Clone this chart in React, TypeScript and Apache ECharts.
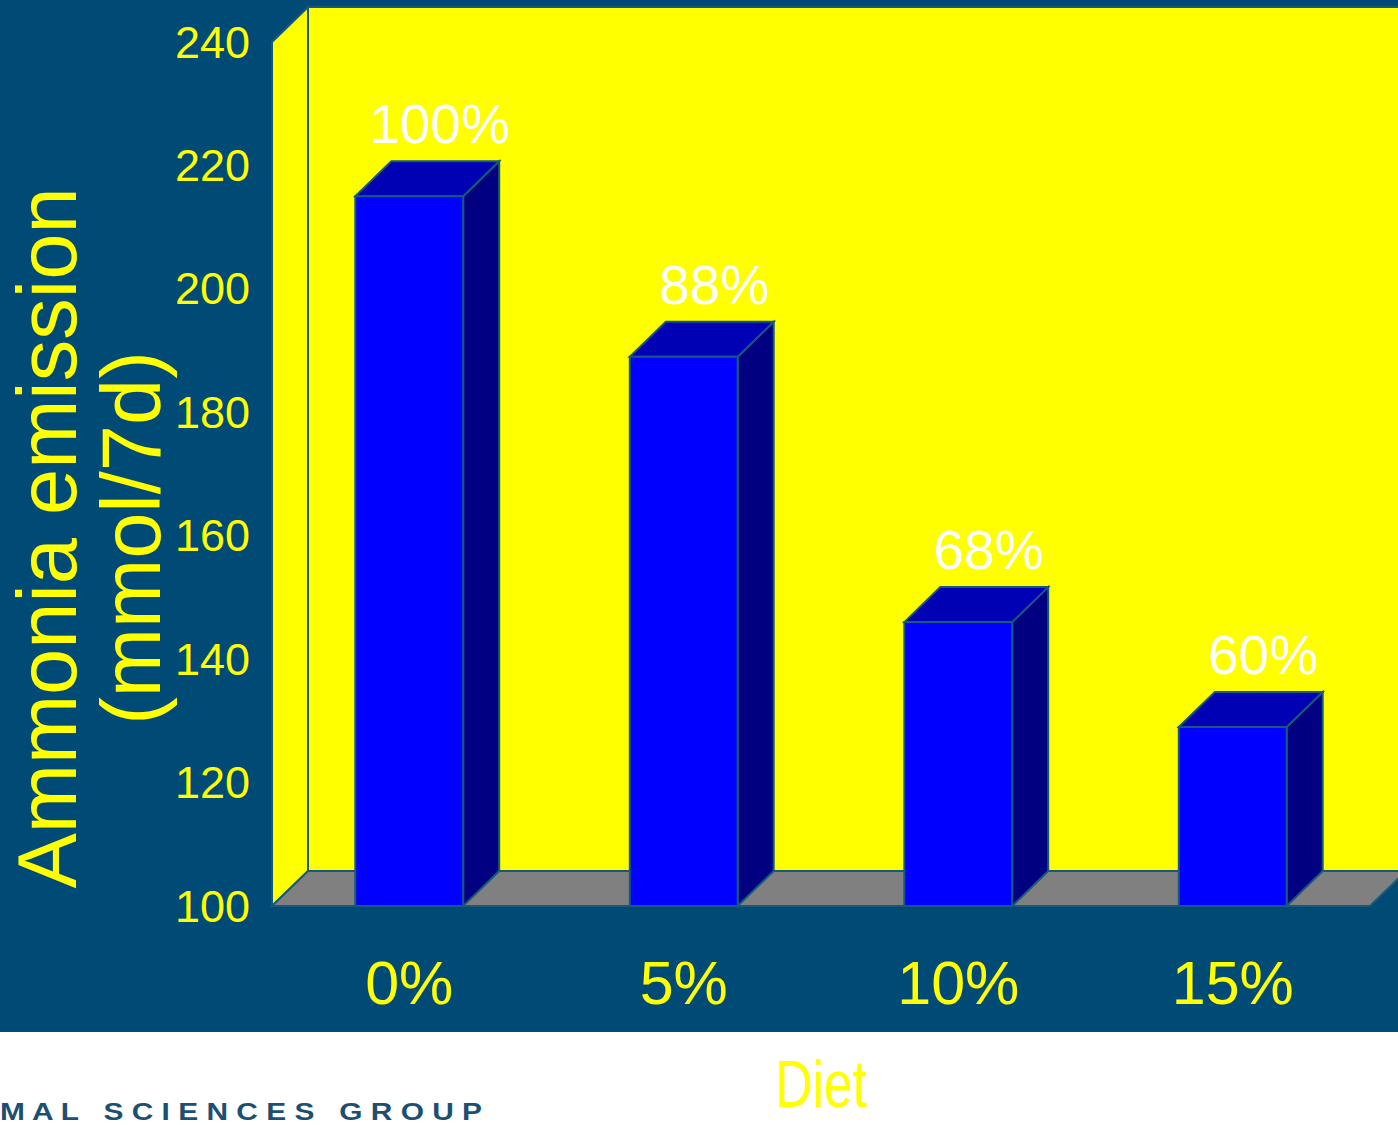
import React, { useEffect, useRef } from "react";
import * as echarts from "echarts";

const categories = ["0%", "5%", "10%", "15%"];
const emissionValues = [215, 189, 146, 129];
const percentLabels = ["100%", "88%", "68%", "60%"];
const yMin = 100;
const yMax = 240;
const yInterval = 20;
const yAxisTitle = "Ammonia emission\n(mmol/7d)";
const xAxisTitle = "Diet";
const footerText = "M A L   S C I E N C E S   G R O U P";

const DX = 36;
const DY = 35;
const BG = "#004b75";
const EDGE = "#155a7c";
const YELLOW = "#ffff00";
const SANS = '"Liberation Sans", Arial, sans-serif';

export default function App() {
  const ref = useRef<HTMLDivElement>(null);
  useEffect(() => {
    const chart = echarts.init(ref.current!, null, { renderer: "svg" });

    const renderWalls = (params: any) => {
      const cs = params.coordSys;
      const left = cs.x;
      const right = cs.x + cs.width;
      const top = cs.y;
      const bottom = cs.y + cs.height;
      return {
        type: "group",
        children: [
          {
            type: "rect",
            shape: { x: left + DX, y: top - DY, width: right - left, height: bottom - top },
            style: { fill: YELLOW, stroke: EDGE, lineWidth: 2 },
          },
          {
            type: "polygon",
            shape: { points: [[left, bottom], [left, top], [left + DX, top - DY], [left + DX, bottom - DY]] },
            style: { fill: YELLOW, stroke: EDGE, lineWidth: 2 },
          },
          {
            type: "polygon",
            shape: { points: [[left, bottom], [left + DX, bottom - DY], [right + DX, bottom - DY], [right, bottom]] },
            style: { fill: "#808080", stroke: EDGE, lineWidth: 2 },
          },
        ],
      };
    };

    const renderBars = (params: any, api: any) => {
      const idx = params.dataIndex;
      const xv = api.value(0);
      const v = api.value(1);
      const topPt = api.coord([xv, v]);
      const basePt = api.coord([xv, yMin]);
      const cx = topPt[0];
      const yTop = topPt[1];
      const yBase = basePt[1];
      const bw = api.size([1, 0])[0] * 0.393;
      const x0 = cx - bw / 2;
      const x1 = cx + bw / 2;
      const st = { stroke: EDGE, lineWidth: 2 };
      return {
        type: "group",
        children: [
          {
            type: "polygon",
            shape: { points: [[x1, yTop], [x1 + DX, yTop - DY], [x1 + DX, yBase - DY], [x1, yBase]] },
            style: { fill: "#000080", ...st },
          },
          {
            type: "polygon",
            shape: { points: [[x0, yTop], [x0 + DX, yTop - DY], [x1 + DX, yTop - DY], [x1, yTop]] },
            style: { fill: "#0000b4", ...st },
          },
          {
            type: "rect",
            shape: { x: x0, y: yTop, width: bw, height: yBase - yTop },
            style: { fill: "#0000ff", ...st },
          },
          {
            type: "text",
            x: cx + 30,
            y: yTop - DY - 37,
            style: {
              text: percentLabels[idx],
              fill: "#ffffff",
              fontSize: 55,
              fontFamily: SANS,
              textAlign: "center",
              textVerticalAlign: "middle",
            },
          },
        ],
      };
    };

    chart.setOption({
      animation: false,
      backgroundColor: "#ffffff",
      grid: { left: 272, right: 28, top: 42, bottom: 219, containLabel: false, outerBoundsMode: "none" },
      xAxis: {
        type: "category",
        data: categories,
        z: 10,
        axisLine: { show: false },
        axisTick: { show: false },
        splitLine: { show: false },
        axisLabel: { color: YELLOW, fontSize: 61, fontFamily: SANS, margin: 46 },
      },
      yAxis: {
        type: "value",
        min: yMin,
        max: yMax,
        interval: yInterval,
        z: 10,
        axisLine: { show: false },
        axisTick: { show: false },
        splitLine: { show: false },
        axisLabel: { color: YELLOW, fontSize: 45, fontFamily: SANS, margin: 22 },
      },
      graphic: [
        {
          type: "rect",
          z: -100,
          shape: { x: 0, y: 0, width: 1398, height: 1032 },
          style: { fill: BG },
          silent: true,
        },
        {
          type: "text",
          z: 10,
          x: 89,
          y: 538,
          rotation: Math.PI / 2,
          style: {
            text: yAxisTitle,
            fill: YELLOW,
            fontSize: 83,
            lineHeight: 84,
            fontFamily: SANS,
            textAlign: "center",
            textVerticalAlign: "middle",
          },
        },
        {
          type: "text",
          z: 10,
          x: 821,
          y: 1084,
          scaleX: 0.78,
          style: {
            text: xAxisTitle,
            fill: YELLOW,
            fontSize: 66,
            fontFamily: SANS,
            textAlign: "center",
            textVerticalAlign: "middle",
          },
        },
        {
          type: "text",
          z: 10,
          x: 0,
          y: 1112,
          scaleX: 1.3,
          style: {
            text: footerText,
            fill: "#1d4f72",
            fontSize: 23,
            fontWeight: "bold",
            fontFamily: SANS,
            textAlign: "left",
            textVerticalAlign: "middle",
          },
        },
      ],
      series: [
        {
          type: "custom",
          z: 1,
          silent: true,
          data: [[0, yMin]],
          renderItem: renderWalls,
        },
        {
          type: "custom",
          z: 3,
          data: categories.map((c, i) => [i, emissionValues[i]]),
          encode: { x: 0, y: 1 },
          renderItem: renderBars,
        },
      ],
    });
    return () => chart.dispose();
  }, []);

  return (
    <div
      ref={ref}
      style={{ position: "fixed", left: 0, top: 0, width: 1398, height: 1125 }}
    />
  );
}
